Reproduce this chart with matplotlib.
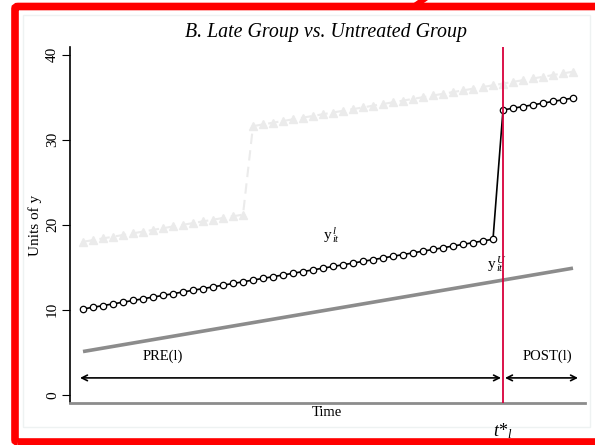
import matplotlib
matplotlib.use("Agg")
import matplotlib.pyplot as plt
from matplotlib.patches import Rectangle, Polygon, FancyBboxPatch

plt.rcParams['font.family'] = ['Liberation Serif', 'DejaVu Serif']
plt.rcParams['mathtext.fontset'] = 'custom'
plt.rcParams['mathtext.rm'] = 'Liberation Serif'
plt.rcParams['mathtext.it'] = 'Liberation Serif:italic'

# time periods
t = list(range(1, 51))

# late group (treated at t*_l = 43)
late = [10.1, 10.3, 10.5, 10.7, 10.9, 11.1, 11.3, 11.5, 11.7, 11.9,
        12.1, 12.3, 12.5, 12.7, 12.9, 13.1, 13.3, 13.5, 13.7, 13.9,
        14.1, 14.3, 14.5, 14.7, 14.9, 15.1, 15.3, 15.5, 15.7, 15.9,
        16.1, 16.3, 16.5, 16.7, 16.9, 17.1, 17.3, 17.5, 17.7, 17.9,
        18.1, 18.3, 33.5, 33.7, 33.9, 34.1, 34.3, 34.5, 34.7, 34.9]

# early group (greyed out in this panel)
early = [18.0, 18.2, 18.4, 18.6, 18.8, 19.0, 19.2, 19.4, 19.6, 19.8,
         20.0, 20.2, 20.4, 20.6, 20.8, 21.0, 21.2, 31.6, 31.8, 32.0,
         32.2, 32.4, 32.6, 32.8, 33.0, 33.2, 33.4, 33.6, 33.8, 34.0,
         34.2, 34.4, 34.6, 34.8, 35.0, 35.2, 35.4, 35.6, 35.8, 36.0,
         36.2, 36.4, 36.6, 36.8, 37.0, 37.2, 37.4, 37.6, 37.8, 38.0]

# untreated group
untreated = [5.1, 5.3, 5.5, 5.7, 5.9, 6.1, 6.3, 6.5, 6.7, 6.9,
             7.1, 7.3, 7.5, 7.7, 7.9, 8.1, 8.3, 8.5, 8.7, 8.9,
             9.1, 9.3, 9.5, 9.7, 9.9, 10.1, 10.3, 10.5, 10.7, 10.9,
             11.1, 11.3, 11.5, 11.7, 11.9, 12.1, 12.3, 12.5, 12.7, 12.9,
             13.1, 13.3, 13.5, 13.7, 13.9, 14.1, 14.3, 14.5, 14.7, 14.9]

t_star = 43
y_ticks = [0, 10, 20, 30, 40]

W, H = 595, 445
fig = plt.figure(figsize=(W / 100, H / 100), dpi=100)
fig.patch.set_facecolor('white')

ax = fig.add_axes([70 / W, 1 - 403 / H, 515 / W, 356 / H])
ax.set_xlim(-0.3, 51.2)
ax.set_ylim(-0.95, 40.9)

ax.plot(t, early, color='#ebebeb', lw=1.5, ls=(0, (5, 3)),
        marker='^', ms=5.5, mfc='#ebebeb', mec='#ebebeb', zorder=2)
ax.plot(t, untreated, color='#8c8c8c', lw=2.6, solid_capstyle='butt', zorder=3)
ax.plot(t, late, color='black', lw=1.2, marker='o', ms=4.6,
        mfc='white', mec='black', mew=0.9, zorder=4)
ax.axvline(t_star, color='#d8003c', lw=1.3, zorder=5)

# PRE / POST periods
ax.annotate('', xy=(0.7, 2.0), xytext=(42.8, 2.0),
            arrowprops=dict(arrowstyle='<->', color='black', lw=1.2,
                            shrinkA=0, shrinkB=0, mutation_scale=10))
ax.annotate('', xy=(43.2, 2.0), xytext=(50.5, 2.0),
            arrowprops=dict(arrowstyle='<->', color='black', lw=1.2,
                            shrinkA=0, shrinkB=0, mutation_scale=10))
ax.text(9.0, 4.5, 'PRE(l)', ha='center', va='center', fontsize=10.5)
ax.text(47.4, 4.5, 'POST(l)', ha='center', va='center', fontsize=10.5)

ax.text(25.9, 18.8, r'$\mathrm{y}^{\,l}_{\,it}$', ha='center', va='center', fontsize=11)
ax.text(42.4, 15.4, r'$\mathrm{y}^{\,U}_{\,it}$', ha='center', va='center', fontsize=11)

ax.set_yticks(y_ticks)
ax.set_yticklabels([str(v) for v in y_ticks], rotation=90, va='center', fontsize=11)
ax.tick_params(axis='y', direction='out', length=6, width=0.8, pad=2)
ax.set_xticks([])
ax.set_ylabel('Units of y', fontsize=11, labelpad=3)

for s in ('top', 'right'):
    ax.spines[s].set_visible(False)
ax.spines['left'].set_color('black')
ax.spines['left'].set_linewidth(1.2)
ax.spines['bottom'].set_color('#8c8c8c')
ax.spines['bottom'].set_linewidth(2.0)

fig.text(327 / W, 1 - 412 / H, 'Time', ha='center', va='center', fontsize=10.5)
fig.text(503 / W, 1 - 431 / H, r'$t{*}_{l}$', ha='center', va='center', fontsize=13)
fig.text(326 / W, 1 - 33 / H, 'B. Late Group vs. Untreated Group',
         ha='center', va='center', fontsize=14.3, style='italic')

# faint inner frame
fig.patches.append(Rectangle((23 / W, 1 - 427 / H), 567 / W, 412 / H,
                             transform=fig.transFigure, fill=False,
                             edgecolor='#eef2f2', lw=1.0, zorder=0))

# red highlight frame
red = '#ff0000'
fig.patches.append(FancyBboxPatch((15 / W, 1 - 442 / H), 620 / W, 435.5 / H,
                                  boxstyle='round,pad=0,rounding_size=0.005',
                                  transform=fig.transFigure, fill=False,
                                  edgecolor=red, lw=5.5, zorder=10))
fig.patches.append(Polygon([(404 / W, 1 - 10 / H), (414 / W, 1 - 10 / H),
                            (428 / W, 1.0), (418 / W, 1.0)],
                           closed=True, transform=fig.transFigure,
                           facecolor=red, edgecolor='none', zorder=10))

fig.savefig('out.png', dpi=100)
